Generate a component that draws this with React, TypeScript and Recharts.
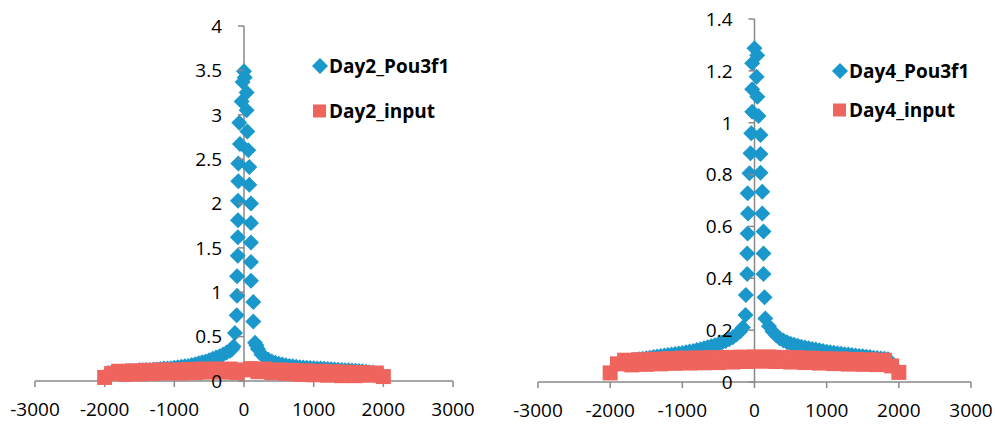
import { ScatterChart, Scatter, XAxis, YAxis, ReferenceLine } from "recharts";

const BLUE = "#1B98CB";
const RED = "#F0645E";
const AXIS = "#898989";
const FONT = '"Open Sans", "Liberation Sans", sans-serif';

const xTicks = [-3000, -2000, -1000, 0, 1000, 2000, 3000];
const day2Ticks = [0, 0.5, 1, 1.5, 2, 2.5, 3, 3.5, 4];
const day4Ticks = [0, 0.2, 0.4, 0.6, 0.8, 1, 1.2, 1.4];

// [position, value] pairs
const day2Pou3f1: [number, number][] = [
  [-1950, 0.09], [-1900, 0.095], [-1850, 0.1], [-1800, 0.1], [-1750, 0.105], [-1700, 0.105],
  [-1650, 0.11], [-1600, 0.11], [-1550, 0.115], [-1500, 0.12], [-1450, 0.12], [-1400, 0.125],
  [-1350, 0.125], [-1300, 0.13], [-1250, 0.13], [-1200, 0.135], [-1150, 0.14], [-1100, 0.14],
  [-1050, 0.145], [-1000, 0.15], [-950, 0.155], [-900, 0.16], [-850, 0.165], [-800, 0.17],
  [-750, 0.18], [-700, 0.19], [-650, 0.2], [-600, 0.21], [-550, 0.22], [-500, 0.235],
  [-450, 0.25], [-400, 0.265], [-350, 0.28], [-300, 0.3], [-250, 0.32], [-200, 0.34],
  [-170, 0.36], [-150, 0.39], [-130, 0.54], [-105, 0.74], [-100, 0.96], [-100, 1.18],
  [-90, 1.41], [-88, 1.62], [-86, 1.81], [-86, 2.03], [-82, 2.25], [-82, 2.45],
  [-58, 2.67], [-67, 2.91], [-33, 3.15], [-20, 3.37], [0, 3.49], [10, 3.42],
  [38, 3.25], [38, 3.05], [48, 2.81], [62, 2.6], [76, 2.41], [76, 2.21],
  [100, 2.0], [100, 1.78], [100, 1.56], [100, 1.34], [100, 1.13], [134, 0.89],
  [134, 0.67], [158, 0.43], [180, 0.4], [200, 0.36], [250, 0.3], [300, 0.265],
  [350, 0.24], [400, 0.22], [450, 0.205], [500, 0.195], [550, 0.185], [600, 0.178],
  [650, 0.17], [700, 0.165], [750, 0.16], [800, 0.155], [850, 0.152], [900, 0.15],
  [950, 0.147], [1000, 0.145], [1050, 0.142], [1100, 0.14], [1150, 0.137], [1200, 0.135],
  [1250, 0.132], [1300, 0.13], [1350, 0.127], [1400, 0.125], [1450, 0.122], [1500, 0.12],
  [1550, 0.117], [1600, 0.115], [1650, 0.112], [1700, 0.11], [1750, 0.105], [1800, 0.1],
  [1850, 0.095],
];

const day2Input: [number, number][] = [
  [-2000, 0.04], [-1900, 0.085], [-1800, 0.11], [-1700, 0.075], [-1600, 0.115], [-1500, 0.08],
  [-1400, 0.12], [-1300, 0.085], [-1200, 0.125], [-1100, 0.09], [-1000, 0.125], [-900, 0.09],
  [-800, 0.13], [-700, 0.095], [-600, 0.135], [-500, 0.1], [-400, 0.135], [-300, 0.1],
  [-200, 0.135], [-100, 0.095], [0, 0.125], [100, 0.14], [200, 0.105], [300, 0.135],
  [400, 0.095], [500, 0.125], [600, 0.085], [700, 0.12], [800, 0.075], [900, 0.115],
  [1000, 0.07], [1100, 0.11], [1200, 0.065], [1300, 0.105], [1400, 0.06], [1500, 0.1],
  [1600, 0.06], [1700, 0.095], [1800, 0.065], [1900, 0.09], [2000, 0.05],
];

const day4Pou3f1: [number, number][] = [
  [-1850, 0.078], [-1800, 0.08], [-1750, 0.082], [-1700, 0.084], [-1650, 0.086], [-1600, 0.088],
  [-1550, 0.09], [-1500, 0.092], [-1450, 0.094], [-1400, 0.096], [-1350, 0.098], [-1300, 0.1],
  [-1250, 0.102], [-1200, 0.104], [-1150, 0.106], [-1100, 0.108], [-1050, 0.11], [-1000, 0.112],
  [-950, 0.115], [-900, 0.118], [-850, 0.12], [-800, 0.123], [-750, 0.126], [-700, 0.13],
  [-650, 0.134], [-600, 0.138], [-550, 0.142], [-500, 0.147], [-450, 0.152], [-400, 0.158],
  [-350, 0.165], [-300, 0.173], [-250, 0.183], [-200, 0.195], [-160, 0.21], [-125, 0.258],
  [-120, 0.336], [-101, 0.417], [-101, 0.496], [-95, 0.573], [-90, 0.65], [-95, 0.728],
  [-70, 0.805], [-55, 0.882], [-45, 0.959], [-32, 1.042], [-32, 1.129], [-32, 1.229],
  [0, 1.287], [37, 1.26], [30, 1.177], [40, 1.1], [55, 1.026], [83, 0.953],
  [83, 0.879], [83, 0.807], [107, 0.734], [107, 0.65], [125, 0.58], [125, 0.496],
  [125, 0.417], [139, 0.327], [150, 0.245], [200, 0.215], [250, 0.195], [300, 0.18],
  [350, 0.168], [400, 0.16], [450, 0.153], [500, 0.148], [550, 0.144], [600, 0.14],
  [650, 0.136], [700, 0.133], [750, 0.13], [800, 0.127], [850, 0.125], [900, 0.122],
  [950, 0.12], [1000, 0.117], [1050, 0.115], [1100, 0.113], [1150, 0.111], [1200, 0.109],
  [1250, 0.107], [1300, 0.106], [1350, 0.104], [1400, 0.102], [1450, 0.1], [1500, 0.099],
  [1550, 0.097], [1600, 0.096], [1650, 0.094], [1700, 0.093], [1750, 0.091], [1800, 0.09],
  [1850, 0.088],
];

const day4Input: [number, number][] = [
  [-2000, 0.035], [-1900, 0.07], [-1800, 0.084], [-1700, 0.066], [-1600, 0.086], [-1500, 0.068],
  [-1400, 0.088], [-1300, 0.07], [-1200, 0.09], [-1100, 0.072], [-1000, 0.092], [-900, 0.073],
  [-800, 0.093], [-700, 0.074], [-600, 0.094], [-500, 0.075], [-400, 0.095], [-300, 0.077],
  [-200, 0.096], [-100, 0.079], [0, 0.097], [100, 0.08], [200, 0.097], [300, 0.079],
  [400, 0.095], [500, 0.077], [600, 0.094], [700, 0.075], [800, 0.092], [900, 0.073],
  [1000, 0.09], [1100, 0.071], [1200, 0.089], [1300, 0.069], [1400, 0.087], [1500, 0.068],
  [1600, 0.086], [1700, 0.067], [1800, 0.084], [1900, 0.062], [2000, 0.037],
];

const toPoints = (arr: [number, number][]) => arr.map(([x, y]) => ({ x, y }));

const Diamond = (props: any) => {
  const { cx, cy } = props;
  const r = 8;
  return (
    <polygon
      points={`${cx},${cy - r} ${cx + r},${cy} ${cx},${cy + r} ${cx - r},${cy}`}
      fill={BLUE}
    />
  );
};

const Square = (props: any) => {
  const { cx, cy } = props;
  return <rect x={cx - 7.5} y={cy - 7.5} width={15} height={15} fill={RED} />;
};

interface PanelProps {
  left: number;
  width: number;
  margin: { top: number; right: number; bottom: number; left: number };
  xAxisHeight: number;
  yMax: number;
  yTicks: number[];
  pou: [number, number][];
  input: [number, number][];
  names: [string, string];
  legendLeft: number;
  legendRows: [number, number];
}

const Panel = (p: PanelProps) => {
  const plotWidth = p.width - p.margin.left - p.margin.right;
  const zeroX = p.margin.left + plotWidth / 2;
  const yAxisX = p.margin.left;

  // y axis sits at x = 0, so its ticks are drawn from the centre of the plot
  const renderYTick = (props: any) => {
    const { y, payload } = props;
    return (
      <g>
        <line x1={zeroX - 6} x2={zeroX} y1={y} y2={y} stroke={AXIS} strokeWidth={1.5} />
        <text
          x={zeroX - 22}
          y={y}
          dy="0.36em"
          textAnchor="end"
          fontSize={19}
          fontFamily={FONT}
          fill="#000"
        >
          {payload.value}
        </text>
      </g>
    );
  };

  const r0 = p.legendRows[0];
  const r1 = p.legendRows[1];

  return (
    <div style={{ position: "absolute", left: p.left, top: 0, width: p.width, height: 424 }}>
      <ScatterChart width={p.width} height={424} margin={{ ...p.margin, left: yAxisX - 1 }}>
        <XAxis
          type="number"
          dataKey="x"
          domain={[-3000, 3000]}
          ticks={xTicks}
          interval={0}
          height={p.xAxisHeight}
          axisLine={{ stroke: AXIS, strokeWidth: 1.5 }}
          tickLine={{ stroke: AXIS, strokeWidth: 1.5 }}
          tickSize={6}
          tickMargin={16}
          tick={{ fill: "#000", fontSize: 19, fontFamily: FONT }}
        />
        <YAxis
          type="number"
          dataKey="y"
          domain={[0, p.yMax]}
          ticks={p.yTicks}
          interval={0}
          width={1}
          axisLine={false}
          tickLine={false}
          tick={renderYTick}
        />
        <ReferenceLine x={0} stroke={AXIS} strokeWidth={1.5} />
        <Scatter
          name={p.names[0]}
          data={toPoints(p.pou)}
          fill={BLUE}
          shape={Diamond}
          isAnimationActive={false}
        />
        <Scatter
          name={p.names[1]}
          data={toPoints(p.input)}
          fill={RED}
          shape={Square}
          isAnimationActive={false}
        />
      </ScatterChart>
      <svg
        width={170}
        height={140}
        style={{ position: "absolute", left: p.legendLeft, top: 0 }}
      >
        <polygon points={`8,${r0 - 8} 16,${r0} 8,${r0 + 8} 0,${r0}`} fill={BLUE} />
        <text x={17} y={r0 + 7} fontSize={19} fontWeight="bold" fontFamily={FONT} fill="#000">
          {p.names[0]}
        </text>
        <rect x={1} y={r1 - 6.5} width={13} height={13} fill={RED} />
        <text x={17} y={r1 + 7} fontSize={19} fontWeight="bold" fontFamily={FONT} fill="#000">
          {p.names[1]}
        </text>
      </svg>
    </div>
  );
};

const App = () => {
  return (
    <div
      style={{
        position: "absolute",
        left: 0,
        top: 0,
        width: 995,
        height: 424,
        background: "#fff",
      }}
    >
      <Panel
        left={0}
        width={495}
        margin={{ top: 26, right: 42, bottom: 0, left: 35 }}
        xAxisHeight={43}
        yMax={4}
        yTicks={day2Ticks}
        pou={day2Pou3f1}
        input={day2Input}
        names={["Day2_Pou3f1", "Day2_input"]}
        legendLeft={312}
        legendRows={[66, 111]}
      />
      <Panel
        left={495}
        width={500}
        margin={{ top: 19, right: 24, bottom: 0, left: 43 }}
        xAxisHeight={42}
        yMax={1.4}
        yTicks={day4Ticks}
        pou={day4Pou3f1}
        input={day4Input}
        names={["Day4_Pou3f1", "Day4_input"]}
        legendLeft={337}
        legendRows={[71, 110]}
      />
    </div>
  );
};

export default App;
